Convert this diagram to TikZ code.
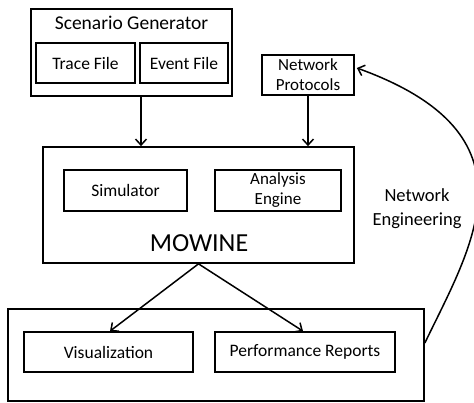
\documentclass[tikz,border=0pt]{standalone}
\usepackage{fontspec}
\setmainfont{Carlito}
\usetikzlibrary{arrows.meta}
\begin{document}
\begin{tikzpicture}[x=1pt,y=-1pt,
  box/.style={draw,line width=1.7pt,rectangle,inner sep=0pt,font=\fontsize{17.5}{20}\selectfont,align=center},
  arr/.style={line width=1.5pt,-{Straight Barb[length=6pt,width=11pt,line width=1.5pt]}}]
\useasboundingbox (0,0) rectangle (474,403);
% scenario generator group
\node[box,minimum width=201pt,minimum height=87pt] (scen) at (131.5,52.5) {};
\node[font=\fontsize{19.5}{21}\selectfont] (scentitle) at (131.5,23) {Scenario Generator};
\node[box,minimum width=99pt,minimum height=40pt] (trace) at (85.5,63) {Trace File};
\node[box,minimum width=88pt,minimum height=40pt] (event) at (184,63) {Event File};
% protocols
\node[box,minimum width=92pt,minimum height=40pt,font=\fontsize{17}{20}\selectfont] (np) at (308,75) {Network\\Protocols};
% core
\node[box,minimum width=311pt,minimum height=116pt] (mow) at (198.5,205) {};
\node[box,minimum width=123pt,minimum height=41pt] (sim) at (125.5,190.5) {Simulator};
\node[box,minimum width=126pt,minimum height=41pt,font=\fontsize{17}{20}\selectfont] (ana) at (278,190.5) {Analysis\\Engine};
\node[font=\fontsize{26}{28}\selectfont] (mowtitle) at (199,243) {MOWINE};
% outputs
\node[box,minimum width=416pt,minimum height=92pt] (out) at (216,355) {};
\node[box,minimum width=169pt,minimum height=40pt] (vis) at (108.5,352) {Visualization};
\node[box,minimum width=180pt,minimum height=40pt] (perf) at (305,352) {Performance Reports};
% feedback label
\node[font=\fontsize{18.5}{24}\selectfont,align=center] (neteng) at (417,209) {Network\\Engineering};
% connectors
\draw[arr] ([xshift=9.5pt]scen.south) -- ([xshift=9.5pt]scen.south |- mow.north);
\draw[arr] (np.south) -- (np.south |- mow.north);
\draw[arr] (mow.south) -- ([xshift=1.5pt]vis.north);
\draw[arr] (mow.south) -- ([xshift=-2pt]perf.north);
\draw[arr] ([yshift=12pt]out.east) .. controls (472,245) and (542,135) .. ([yshift=7pt,xshift=2pt]np.east);
\end{tikzpicture}
\end{document}
